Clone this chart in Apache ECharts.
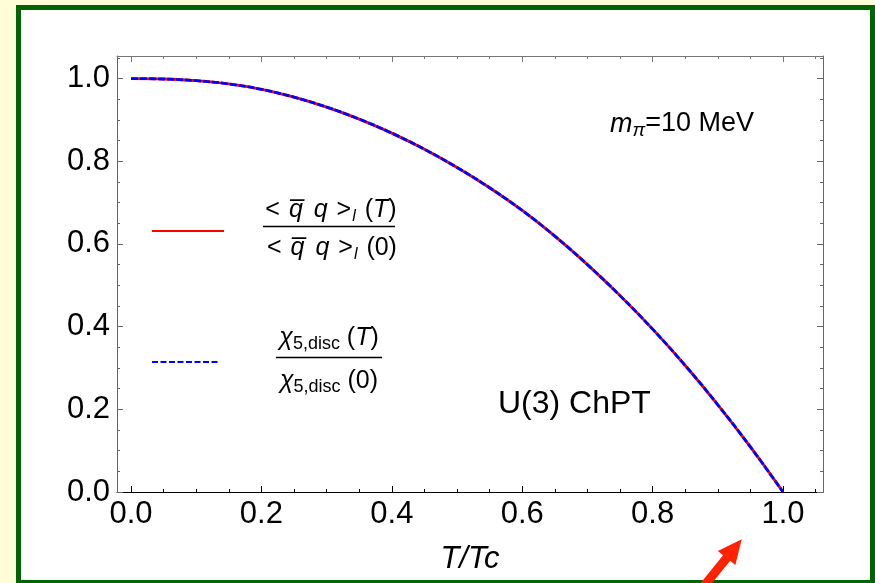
<!DOCTYPE html>
<html>
<head>
<meta charset="utf-8">
<script src="https://cdn.jsdelivr.net/npm/echarts@6.0.0/dist/echarts.min.js"></script>
<style>
  html, body { margin:0; padding:0; width:875px; height:583px; overflow:hidden; background:#FFFDD8; }
  #frame { position:absolute; left:16px; top:5px; width:859px; height:580px; box-sizing:border-box;
           border:5px solid #006400; background:#ffffff; }
  #chart { position:absolute; left:0; top:0; width:875px; height:583px; }
</style>
</head>
<body>
<div id="frame"></div>
<div id="chart"></div>
<script>
// ---- data ----
const tOverTc = [0.00, 0.05, 0.10, 0.15, 0.20, 0.25, 0.30, 0.35, 0.40, 0.45, 0.50,
                 0.55, 0.60, 0.65, 0.70, 0.75, 0.80, 0.85, 0.90, 0.95, 1.00];
const condensateRatio = [1.000, 0.999, 0.995, 0.987, 0.974, 0.955, 0.931, 0.902, 0.868, 0.829, 0.785,
                         0.736, 0.681, 0.619, 0.550, 0.475, 0.394, 0.306, 0.211, 0.109, 0.000];
const chi5discRatio   = [1.000, 0.999, 0.995, 0.987, 0.974, 0.955, 0.931, 0.902, 0.868, 0.829, 0.785,
                         0.736, 0.681, 0.619, 0.550, 0.475, 0.394, 0.306, 0.211, 0.109, 0.000];
const xMajorTicks = [0.0, 0.2, 0.4, 0.6, 0.8, 1.0];
const xMinorTicks = [0.05, 0.1, 0.15, 0.25, 0.3, 0.35, 0.45, 0.5, 0.55, 0.65, 0.7, 0.75, 0.85, 0.9, 0.95, 1.05];
const yMajorTicks = [0.0, 0.2, 0.4, 0.6, 0.8, 1.0];
const yMinorTicks = [0.05, 0.1, 0.15, 0.25, 0.3, 0.35, 0.45, 0.5, 0.55, 0.65, 0.7, 0.75, 0.85, 0.9, 0.95, 1.05];
const xRange = [-0.0215, 1.0613];
const yRange = [0.0, 1.0546];

const FONT = 'Liberation Sans, Arial, sans-serif';
const chart = echarts.init(document.getElementById('chart'), null, {renderer:'canvas'});

function pairs(xs, ys){ return xs.map((x,i)=>[x, ys[i]]); }

function xAx(pos, ticks, len, color, withLabel, showLine){
  const a = {
    type:'value', position:pos, min:xRange[0], max:xRange[1], gridIndex:0,
    axisLine:{show:showLine, onZero:false, lineStyle:{color:color, width:1}},
    axisTick:{show:true, inside:true, length:len, customValues:ticks, lineStyle:{color:color, width:1}},
    axisLabel:{show:withLabel, customValues:ticks, margin:7, fontSize:31, lineHeight:31,
               fontFamily:FONT, color:'#000', formatter:v=>v.toFixed(1)},
    splitLine:{show:false}
  };
  if (withLabel){
    a.name = 'T/Tc'; a.nameLocation = 'middle'; a.nameGap = 52;
    a.nameTextStyle = {fontSize:31, lineHeight:31, fontStyle:'italic', fontFamily:FONT, color:'#000'};
  }
  return a;
}
function yAx(pos, ticks, len, color, withLabel, showLine){
  return {
    type:'value', position:pos, min:yRange[0], max:yRange[1], gridIndex:0,
    axisLine:{show:showLine, onZero:false, lineStyle:{color:color, width:1}},
    axisTick:{show:true, inside:true, length:len, customValues:ticks, lineStyle:{color:color, width:1}},
    axisLabel:{show:withLabel, customValues:ticks, margin:7, fontSize:31, lineHeight:31,
               fontFamily:FONT, color:'#000', formatter:v=>v.toFixed(1)},
    splitLine:{show:false}
  };
}

const rich = {
  u:{fontSize:25, lineHeight:28, fontFamily:FONT, color:'#000'},
  i:{fontSize:25, lineHeight:28, fontFamily:FONT, fontStyle:'italic', color:'#000'},
  q:{fontSize:25, lineHeight:28, fontFamily:FONT, fontStyle:'italic', color:'#000', padding:[0,2,0,2]},
  s:{fontSize:16, lineHeight:16, fontFamily:FONT, fontStyle:'italic', color:'#000', padding:[14,2,0,1]},
  d:{fontSize:18, lineHeight:18, fontFamily:FONT, color:'#000', padding:[12,0,0,0]},
  mi:{fontSize:27, lineHeight:30, fontFamily:FONT, fontStyle:'italic', color:'#000'},
  ms:{fontSize:19, lineHeight:18, fontFamily:FONT, fontStyle:'italic', color:'#000', padding:[14,0,0,0]},
  mu:{fontSize:27, lineHeight:30, fontFamily:FONT, color:'#000'}
};
function txt(x, y, text, align){
  return {type:'text', x:x, y:y, z:10, style:{text:text, align:align||'center', verticalAlign:'middle', rich:rich, fill:'#000'}};
}

const qbar = 'q\u0305';
const option = {
  animation:false,
  backgroundColor:'transparent',
  grid:{left:117, top:56, right:52, bottom:91, containLabel:false, outerBoundsMode:'none'},
  xAxis:[
    xAx('bottom', xMajorTicks, 6, '#000', true, true),
    xAx('bottom', xMinorTicks, 3, '#000', false, false),
    xAx('top', xMajorTicks, 6, '#777', false, true),
    xAx('top', xMinorTicks, 3, '#777', false, false)
  ],
  yAxis:[
    yAx('left', yMajorTicks, 6, '#666', true, true),
    yAx('left', yMinorTicks, 3, '#666', false, false),
    yAx('right', yMajorTicks, 6, '#666', false, true),
    yAx('right', yMinorTicks, 3, '#666', false, false)
  ],
  series:[
    {name:'condensate', type:'line', smooth:0.4, showSymbol:false, xAxisIndex:0, yAxisIndex:0, z:2,
     data:pairs(tOverTc, condensateRatio), lineStyle:{color:'#ff0000', width:2.8}},
    {name:'chi5disc', type:'line', smooth:0.4, showSymbol:false, xAxisIndex:0, yAxisIndex:0, z:3,
     data:pairs(tOverTc, chi5discRatio), lineStyle:{color:'#0000ff', width:2.8, type:[7,2]}}
  ],
  graphic:[
    // legend samples
    {type:'line', z:10, shape:{x1:152, y1:231, x2:224, y2:231}, style:{stroke:'#ff0000', lineWidth:2.2}},
    {type:'line', z:10, shape:{x1:152, y1:362, x2:220, y2:362}, style:{stroke:'#0000ff', lineWidth:2.2, lineDash:[6,2.5]}},
    // fraction 1
    txt(331, 210, '{u|< }{q|' + qbar + '}{u| }{q|q}{u| >}{s|l}{u| (}{i|T}{u|)}'),
    {type:'line', z:10, shape:{x1:263, y1:226.5, x2:395, y2:226.5}, style:{stroke:'#000', lineWidth:1.4}},
    txt(332, 248, '{u|< }{q|' + qbar + '}{u| }{q|q}{u| >}{s|l}{u| (0)}'),
    // fraction 2
    txt(329, 338, '{i|\u03c7}{d|5,disc}{u| (}{i|T}{u|)}'),
    {type:'line', z:10, shape:{x1:276, y1:357.5, x2:382, y2:357.5}, style:{stroke:'#000', lineWidth:1.4}},
    txt(329, 381, '{i|\u03c7}{d|5,disc}{u| (0)}'),
    // annotations
    txt(610, 124, '{mi|m}{ms|\u03c0}{mu|=10 MeV}', 'left'),
    {type:'text', x:498, y:404, z:10, style:{text:'U(3) ChPT', fontSize:32, fontFamily:FONT, fill:'#000', align:'left', verticalAlign:'middle'}},
    // red arrow
    {type:'polygon', z:20, shape:{points:[[741.7,539.3],[735.4,565.1],[730.1,560.8],[688.7,612.1],[681.7,606.5],[723.1,555.2],[717.8,550.9]]},
     style:{fill:'#ff2200'}}
  ]
};
chart.setOption(option);
</script>
</body>
</html>
